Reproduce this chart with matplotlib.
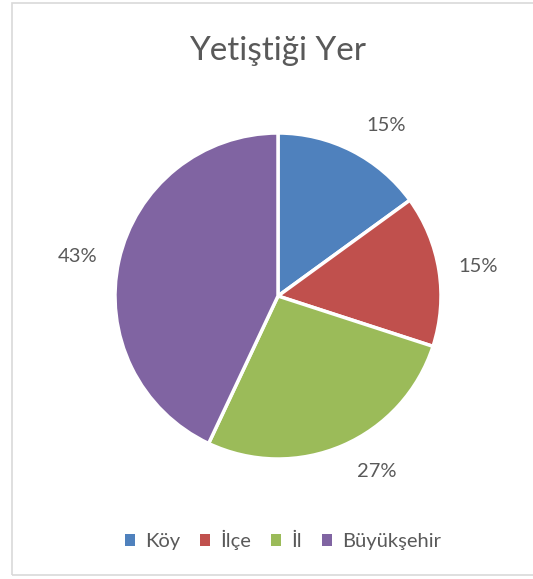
import matplotlib.pyplot as plt
from matplotlib.patches import Rectangle, Patch

# Veriler
kategoriler = ["Köy", "İlçe", "İl", "Büyükşehir"]
degerler = [15, 15, 27, 43]
renkler = ["#4F81BD", "#C0504D", "#9BBB59", "#8064A2"]

# Yüzde etiketlerinin konumu (yarıçap birimiyle, merkeze göre)
etiket_konum = [(0.663, 1.049), (1.227, 0.184), (0.607, -1.074), (-1.227, 0.245)]

plt.rcParams['font.family'] = ['Lato', 'DejaVu Sans']
yazi_rengi = "#595959"

W, H = 533, 579
fig = plt.figure(figsize=(W / 100, H / 100), dpi=100)

# Grafik alanı çerçevesi
fig.patches.append(Rectangle((12 / W, 1 - 575 / H), 1.2, (575 - 3) / H,
                             transform=fig.transFigure, fill=False,
                             edgecolor="#D9D9D9", linewidth=1.2))

# Pasta dilimleri
cx, cy, r = 278, 296, 163
ax = fig.add_axes([(cx - r) / W, 1 - (cy + r) / H, 2 * r / W, 2 * r / H])
_, _, yuzdeler = ax.pie(degerler, colors=renkler, startangle=90, counterclock=False,
                        autopct="%1.0f%%", pctdistance=1.24,
                        wedgeprops=dict(edgecolor="white", linewidth=2.5),
                        textprops=dict(color=yazi_rengi, fontsize=14.5))
for t, p in zip(yuzdeler, etiket_konum):
    t.set_position(p)
    t.set_va("center")
ax.set_xlim(-1, 1)
ax.set_ylim(-1, 1)
ax.set_aspect("auto")
ax.axis("off")

fig.text(278 / W, 1 - 51 / H, "Yetiştiği Yer", ha="center", va="center",
         fontsize=24, color=yazi_rengi)

tutamaclar = [Patch(facecolor=c, edgecolor="none") for c in renkler]
fig.legend(tutamaclar, kategoriler, loc="center", ncol=4,
           bbox_to_anchor=(283 / W, 1 - 540 / H), frameon=False,
           handlelength=0.5, handleheight=0.5, handletextpad=0.5,
           columnspacing=1.0, fontsize=14.5, labelcolor=yazi_rengi)

fig.savefig("out.png", dpi=100)
